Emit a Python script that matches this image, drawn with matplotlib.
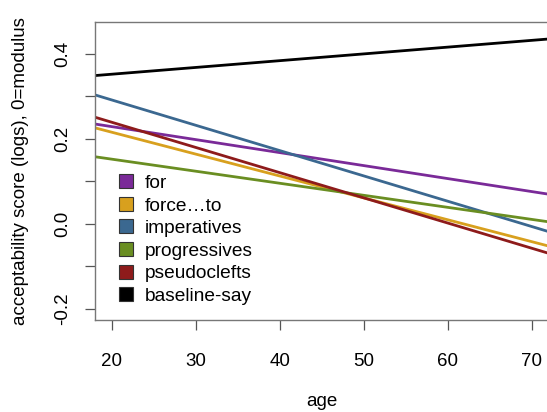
import numpy as np
import matplotlib
matplotlib.use('Agg')
import matplotlib.pyplot as plt
from matplotlib.patches import Patch

plt.rcParams['font.family'] = ['Liberation Sans', 'DejaVu Sans']

# Fitted lines: value at age 18 and at age 72
constructions = ['for', 'force\u2026to', 'imperatives', 'progressives', 'pseudoclefts', 'baseline-say']
age_range = [18, 72]
start_vals = [0.235, 0.226, 0.3035, 0.158, 0.251, 0.349]
end_vals = [0.070, -0.052, -0.018, 0.005, -0.069, 0.435]
colors = ['#7A2A98', '#D8A01E', '#3B6890', '#6A8E22', '#8E1B1B', '#000000']

fs = 13.5
fig = plt.figure(figsize=(5.47, 4.12), dpi=100)
ax = fig.add_axes([95/547, 1 - 320/412, 453.5/547, 298/412])

for name, y0, y1, c in zip(constructions, start_vals, end_vals, colors):
    ax.plot(age_range, [y0, y1], color=c, lw=2.0, solid_capstyle='butt')

ax.set_xlim(18, 72)
ax.set_ylim(-0.226, 0.475)
ax.set_xticks([20, 30, 40, 50, 60, 70])
yt = [-0.2, -0.1, 0.0, 0.1, 0.2, 0.3, 0.4]
ax.set_yticks(yt)
ax.set_yticklabels(['-0.2', '', '0.0', '', '0.2', '', '0.4'], rotation=90, va='center')
ax.tick_params(axis='both', labelsize=fs, length=7, width=0.9, color='#555555', direction='out')
ax.tick_params(axis='x', pad=17)
ax.tick_params(axis='y', pad=10)
for s in ax.spines.values():
    s.set_color('#777777')
    s.set_linewidth(1.0)

ax.set_xlabel('age', fontsize=fs, labelpad=16)
ax.set_ylabel('acceptability score (logs), 0=modulus', fontsize=fs, labelpad=18)

handles = [Patch(facecolor=c, edgecolor='#333333', lw=0.8) for c in colors]
ax.legend(handles, constructions, loc='upper left', bbox_to_anchor=(0.035, 0.515),
          frameon=False, fontsize=fs * 1.02, handlelength=0.75, handleheight=0.75,
          handletextpad=0.6, labelspacing=0.26, borderaxespad=0, borderpad=0.4)

fig.savefig('out.png', dpi=100)
